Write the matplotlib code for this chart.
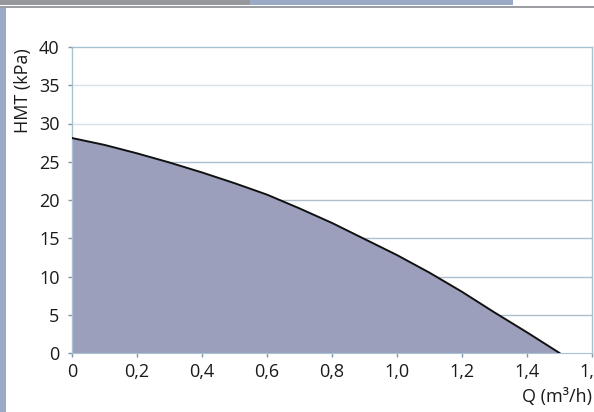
import matplotlib
matplotlib.use("Agg")
import matplotlib.pyplot as plt
from matplotlib.patches import Rectangle

plt.rcParams['font.family'] = ['Open Sans', 'DejaVu Sans']

# Pump curve: flow Q (m³/h) against head HMT (kPa)
flow = [0.0, 0.1, 0.2, 0.3, 0.4, 0.5, 0.6, 0.7, 0.8, 0.9, 1.0, 1.1, 1.2, 1.3, 1.4, 1.5]
head = [28.1, 27.2, 26.1, 24.9, 23.6, 22.2, 20.7, 18.9, 17.0, 14.9, 12.8, 10.5, 8.0, 5.3, 2.7, 0.0]

x_ticks = [0, 0.2, 0.4, 0.6, 0.8, 1.0, 1.2, 1.4, 1.6]
x_tick_labels = ['0', '0,2', '0,4', '0,6', '0,8', '1,0', '1,2', '1,4', '1,6']
y_ticks = [0, 5, 10, 15, 20, 25, 30, 35, 40]

W, H = 594, 412
fig = plt.figure(figsize=(W / 100, H / 100), dpi=100)
fig.patch.set_facecolor('white')

# page decoration: header strips and left margin bar
fig.patches.append(Rectangle((0, 1 - 5 / H), 250 / W, 5 / H, transform=fig.transFigure,
                             facecolor='#97989c', edgecolor='none'))
fig.patches.append(Rectangle((250 / W, 1 - 5 / H), 263 / W, 5 / H, transform=fig.transFigure,
                             facecolor='#9aaac6', edgecolor='none'))
fig.patches.append(Rectangle((0, 1 - 8 / H), 1, 2.2 / H, transform=fig.transFigure,
                             facecolor='#9c9ea3', edgecolor='none'))
fig.patches.append(Rectangle((0, 0), 6 / W, 1 - 8 / H, transform=fig.transFigure,
                             facecolor='#9aaac6', edgecolor='none'))

ax = fig.add_axes([72 / W, 59 / H, 520 / W, 306 / H])
ax.set_xlim(0, 1.6)
ax.set_ylim(0, 40)

# horizontal grid
for y in y_ticks[1:-1]:
    col = '#d6e2ec' if y >= 30 else '#adbfcd'
    ax.axhline(y, color=col, lw=1.0, zorder=1)

ax.fill_between(flow, head, 0, color='#9c9fbb', lw=0, zorder=2)
ax.plot(flow, head, color='#111111', lw=1.4, zorder=3)

for side in ['left', 'top', 'right']:
    ax.spines[side].set_color('#a9c2d2')
    ax.spines[side].set_linewidth(1.0)
ax.spines['bottom'].set_color('#a9c2d2')
ax.spines['bottom'].set_linewidth(0.8)

ax.set_xticks(x_ticks)
ax.set_xticklabels(x_tick_labels)
ax.set_yticks(y_ticks)
ax.tick_params(axis='both', labelsize=13, colors='#7f97a8', labelcolor='#1a1a1a',
               length=3, width=1)
ax.tick_params(axis='y', pad=6)
ax.tick_params(axis='x', pad=4)

fig.text(23 / W, 1 - 91 / H, 'HMT (kPa)', rotation=90, ha='center', va='center',
         fontsize=13, color='#1a1a1a')
fig.text(592 / W, 1 - 397 / H, 'Q (m\u00b3/h)', ha='right', va='center',
         fontsize=13, color='#1a1a1a')

fig.savefig('out.png', dpi=100)
